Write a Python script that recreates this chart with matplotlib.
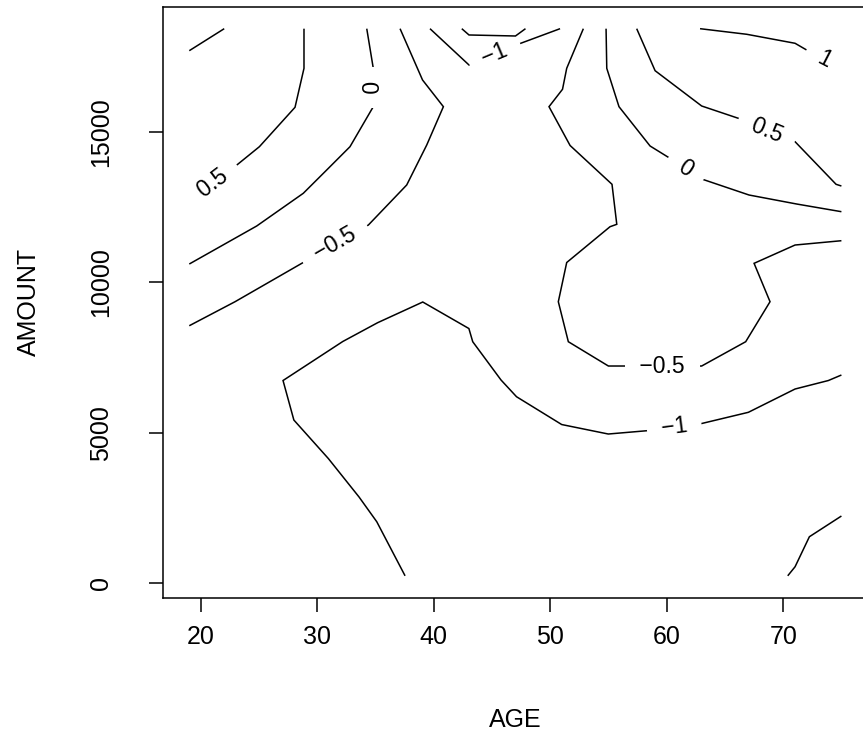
import numpy as np
import matplotlib.pyplot as plt

plt.rcParams['font.family'] = ['Liberation Sans', 'DejaVu Sans']

# contour polylines of the fitted surface over AGE x AMOUNT
# level 1
c1a_age = [19.0, 22.0]
c1a_amt = [17693, 18424]
c1b_age = [62.86, 66.87, 71.02, 72.16, 75.0]
c1b_amt = [18424, 18238, 17939, 17683, 17118]

# level 0.5
c05a_age = [19.0, 23.01, 25.02, 28.08, 28.85, 28.85]
c05a_amt = [12700, 13873, 14504, 15813, 17108, 18424]
c05b_age = [57.42, 59.0, 63.0, 66.15, 71.02, 74.54, 75.0]
c05b_amt = [18424, 17029, 15856, 15447, 14670, 13255, 13198]

# level 0
c0a_age = [19.0, 24.79, 28.79, 30.80, 32.80, 34.80, 34.80, 34.24]
c0a_amt = [10607, 11870, 12956, 13730, 14504, 15833, 17108, 18424]
c0b_age = [54.79, 54.85, 55.90, 58.57, 60.28, 63.0, 67.07, 71.16, 75.0]
c0b_amt = [18424, 17108, 15833, 14527, 14118, 13431, 12899, 12600, 12345]

# level -0.5
cm05a_age = [19.0, 22.93, 28.66, 34.38, 37.67, 39.39, 40.82, 39.03, 37.10]
cm05a_amt = [8557, 9355, 10630, 11903, 13232, 14560, 15833, 16720, 18424]
cm05b_age = [52.84, 51.41, 51.05, 49.89, 51.70, 55.30, 55.71, 55.13, 51.41, 50.69,
             51.55, 54.99, 56.27, 63.0, 66.78, 68.87, 67.50, 71.02, 75.0]
cm05b_amt = [18424, 17108, 16411, 15833, 14544, 13255, 11926, 11846, 10657, 9355,
             8026, 7219, 7219, 7219, 8026, 9355, 10630, 11238, 11381]

# level -1
cm1a_age = [39.67, 43.02, 47.46, 50.84]
cm1a_amt = [18424, 17218, 17939, 18424]
cm1b_age = [37.53, 35.10, 33.58, 30.94, 27.98, 27.05, 32.18, 35.17, 39.05, 43.01, 43.34,
            45.77, 47.10, 50.98, 54.98, 58.28, 63.0, 67.01, 71.02, 73.88, 75.0]
cm1b_amt = [250, 2046, 2867, 4146, 5425, 6737, 8033, 8657, 9345, 8464, 8026,
            6754, 6199, 5275, 4960, 5069, 5309, 5681, 6455, 6737, 6920]

# level -1.5 (too short to carry a label)
cm15a_age = [42.40, 43.02, 47.01, 47.87]
cm15a_amt = [18424, 18215, 18181, 18424]
cm15b_age = [70.39, 71.02, 72.25, 75.0]
cm15b_amt = [250, 551, 1548, 2236]

# (level, ages, amounts, segment that carries the label)
contours = [
    (1, c1a_age, c1a_amt, None),
    (1, c1b_age, c1b_amt, 3),
    (0.5, c05a_age, c05a_amt, 0),
    (0.5, c05b_age, c05b_amt, 3),
    (0, c0a_age, c0a_amt, 5),
    (0, c0b_age, c0b_amt, 4),
    (-0.5, cm05a_age, cm05a_amt, 2),
    (-0.5, cm05b_age, cm05b_amt, 12),
    (-1, cm1a_age, cm1a_amt, 1),
    (-1, cm1b_age, cm1b_amt, 15),
    (-1.5, cm15a_age, cm15a_amt, None),
    (-1.5, cm15b_age, cm15b_amt, None),
]

x_ticks = [20, 30, 40, 50, 60, 70]
y_ticks = [0, 5000, 10000, 15000]

W, H = 863, 745
fig = plt.figure(figsize=(W / 100, H / 100), dpi=100)
ax = fig.add_axes([163.2 / W, 147.3 / H, 704.3 / W, 590.9 / H])
ax.set_xlim(16.76, 77.24)
ax.set_ylim(-477, 19151)

lw = 1.1
fs = 18
for k, (level, xs, ys, seg) in enumerate(contours):
    # each line gets its own layer so a label only blanks out its own line
    z = 2 + 2 * k
    ax.plot(xs, ys, color='black', lw=lw, solid_joinstyle='miter',
            solid_capstyle='butt', zorder=z)
    if seg is None:
        continue
    p = ax.transData.transform([(xs[seg], ys[seg]), (xs[seg + 1], ys[seg + 1])])
    dx, dy = p[1] - p[0]
    ang = np.degrees(np.arctan2(dy, dx))
    if ang > 90:
        ang -= 180
    elif ang <= -90:
        ang += 180
    mx = (xs[seg] + xs[seg + 1]) / 2
    my = (ys[seg] + ys[seg + 1]) / 2
    txt = ' ' + f'{level:g}'.replace('-', '\u2212') + ' '
    ax.text(mx, my, txt, fontsize=16.5, rotation=ang, rotation_mode='anchor',
            ha='center', va='center', zorder=z + 1,
            bbox=dict(boxstyle='square,pad=0.35', fc='white', ec='none'))

for s in ax.spines.values():
    s.set_linewidth(lw)
    s.set_zorder(100)

ax.set_xticks(x_ticks)
ax.set_xticklabels([str(v) for v in x_ticks])
ax.set_yticks(y_ticks)
ax.set_yticklabels([str(v) for v in y_ticks], rotation=90, va='center')
ax.tick_params(direction='out', length=10.4, width=lw, labelsize=fs)
ax.tick_params(axis='x', pad=9.5)
ax.tick_params(axis='y', pad=25.5)

ax.set_xlabel('AGE', fontsize=fs, va='center')
ax.xaxis.set_label_coords(0.5, (597.7 - 720) / 590.9)
ax.set_ylabel('AMOUNT', fontsize=fs, va='center', ha='center')
ax.yaxis.set_label_coords((29 - 163.2) / 704.3, 0.5)

fig.savefig('out.png', dpi=100)
